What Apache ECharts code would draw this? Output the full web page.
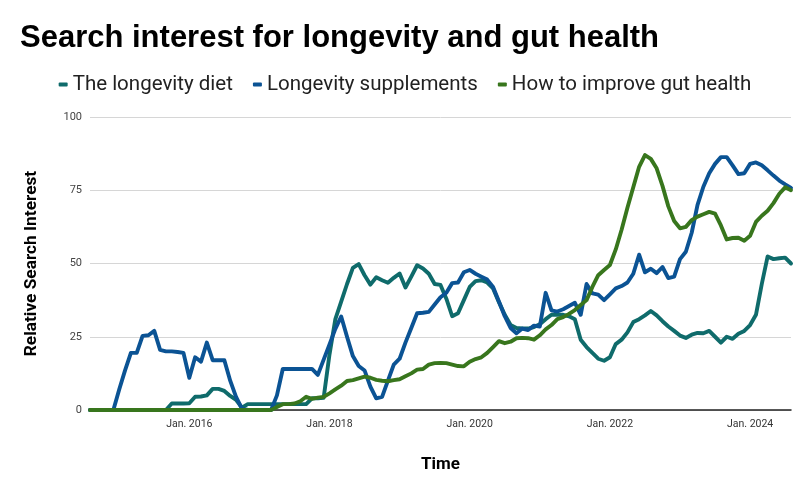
<!DOCTYPE html>
<html>
<head>
<meta charset="utf-8">
<script src="https://cdn.jsdelivr.net/npm/echarts@6/dist/echarts.min.js"></script>
<style>
html,body{margin:0;padding:0;background:#fff;}
#chart{width:810px;height:490px;}
</style>
</head>
<body>
<div id="chart"></div>
<script>
// Monthly categories Aug 2014 – Aug 2024
const startYear = 2014, startMonth = 8, monthCount = 121;
const categories = [];
for (let i = 0; i < monthCount; i++) {
  const t = (startMonth - 1) + i;
  const y = startYear + Math.floor(t / 12);
  const m = (t % 12) + 1;
  categories.push(y + '-' + (m < 10 ? '0' + m : '' + m));
}
const xTickLabels = {'2016-01':'Jan. 2016','2018-01':'Jan. 2018','2020-01':'Jan. 2020','2022-01':'Jan. 2022','2024-01':'Jan. 2024'};
const yTicks = [0, 25, 50, 75, 100];

const seriesNames = ['The longevity diet', 'Longevity supplements', 'How to improve gut health'];

const longevityDiet = [
  0,0,0,0,0,0,0,0,0,0,
  0,0,0,0,2.2,2.2,2.2,2.3,4.5,4.6,
  5,7.2,7.2,6.5,4.8,3.5,0.8,2,2,2,
  2,2,2,2,2,2,2,2,4,4,
  4.2,19,31,37,43,48.5,49.8,46,42.8,45.3,
  44.3,43.4,45.1,46.6,41.8,45.5,49.4,48.3,46.5,43,
  42.7,38,32,33,37.5,42,44,44.3,43.5,41.5,
  36.8,32.5,29,28,27.8,27.8,28.3,29.3,31,32.5,
  32.5,32.5,32,31,24,21.5,19.5,17.5,16.8,18,
  22.5,24,26.5,30,31,32.3,33.8,32.3,30.3,28.5,
  27,25.4,24.6,25.7,26.3,26.2,27,25,23,25,
  24.3,26,27,29,32.5,43,52.4,51.5,51.8,52,
  50
];
const longevitySupplements = [
  0,0,0,0,0,7,13.5,19.5,19.5,25.3,
  25.5,27,20.5,20,20,19.8,19.5,11,18,16.5,
  23,17,17,17,10,4.5,0.5,0,0,0,
  0,0,5,14,14,14,14,14,14,12,
  17.2,22.4,27.7,31.9,25,18.4,15,13.5,8,4,
  4.5,10,15.5,17.5,23,28,33,33.2,33.5,36,
  38.5,40,43.3,43.5,47,47.8,46.5,45.5,44.5,42,
  37,32,28,26.2,27.8,27.3,28.8,28.5,40,34,
  33.6,34.4,35.5,36.6,32.5,43,39.8,39.4,37.5,39.5,
  41.5,42.3,43.5,46.5,53,47,48.2,46.7,48.8,45,
  45.5,51.5,54,60.5,70,76.2,80.8,84,86.3,86.3,
  83.5,80.5,80.8,84,84.5,83.5,81.8,80,78.3,77,
  75.8
];
const gutHealth = [
  0,0,0,0,0,0,0,0,0,0,
  0,0,0,0,0,0,0,0,0,0,
  0,0,0,0,0,0,0,0,0,0,
  0,0,1,2,2,2.2,3,4.5,3.8,4.2,
  4.5,5.7,7,8.3,9.9,10.2,10.8,11.4,11,10.3,
  10,9.8,10.2,10.5,11.5,12.5,13.8,14,15.5,16,
  16.1,16,15.5,15,14.9,16.5,17.4,18,19.5,21.5,
  23.5,22.8,23.3,24.5,24.6,24.5,24,25.5,27.5,29,
  31,31.7,32.8,34.1,35.8,37.5,42,46,47.8,49.5,
  54.8,61.5,69,76,83,87,85.7,82.5,76.5,69.5,
  64.5,62,62.5,64.8,66,66.8,67.6,67,63,58.2,
  58.7,58.8,57.8,59.5,64.2,66.3,68,70.6,73.8,76,
  75
];

const colors = ['#0f6b6b', '#0b5394', '#38761d'];
const FONT = 'Roboto, "Liberation Sans", Arial, sans-serif';
const TITLE_FONT = '"Liberation Sans", Arial, Helvetica, sans-serif';

const chart = echarts.init(document.getElementById('chart'), null, {renderer: 'canvas'});
const mkSeries = (name, data, color) => ({
  name: name, type: 'line', data: data, showSymbol: false, symbol: 'none',
  lineStyle: {width: 3.9, color: color, join: 'round', cap: 'round'},
  itemStyle: {color: color}, smooth: false, animation: false
});
chart.setOption({
  backgroundColor: '#ffffff',
  animation: false,
  textStyle: {fontFamily: FONT},
  title: {
    text: 'Search interest for longevity and gut health',
    left: 15, top: 18,
    textStyle: {fontSize: 31, fontWeight: 'bold', color: '#000', fontFamily: TITLE_FONT}
  },
  legend: {
    top: 69, left: 'center',
    icon: 'roundRect', itemWidth: 9, itemHeight: 4, itemGap: 20,
    textStyle: {fontSize: 20.5, color: '#222', fontFamily: FONT},
    data: seriesNames
  },
  grid: {left: 90, right: 19, top: 117, bottom: 80, containLabel: false},
  xAxis: {
    type: 'category', data: categories, boundaryGap: false,
    name: 'Time', nameLocation: 'middle', nameGap: 46,
    nameTextStyle: {fontSize: 17, fontWeight: 'bold', color: '#000', fontFamily: FONT},
    axisLine: {show: true, lineStyle: {color: '#222', width: 1.5}},
    axisTick: {show: false},
    splitLine: {show: false},
    axisLabel: {
      interval: (idx, val) => xTickLabels.hasOwnProperty(val),
      formatter: (val) => xTickLabels[val] || '',
      fontSize: 10.5, color: '#333', margin: 9, fontFamily: FONT
    }
  },
  yAxis: {
    type: 'value', min: yTicks[0], max: yTicks[yTicks.length - 1], interval: 25,
    name: 'Relative Search Interest', nameLocation: 'middle', nameGap: 50, nameRotate: 90,
    nameTextStyle: {fontSize: 17.3, fontWeight: 'bold', color: '#000', fontFamily: FONT},
    axisLine: {show: false}, axisTick: {show: false},
    splitLine: {lineStyle: {color: '#d6d6d6', width: 1}},
    axisLabel: {fontSize: 11, color: '#444', margin: 8, fontFamily: FONT}
  },
  series: [
    mkSeries(seriesNames[0], longevityDiet, colors[0]),
    mkSeries(seriesNames[1], longevitySupplements, colors[1]),
    mkSeries(seriesNames[2], gutHealth, colors[2])
  ]
});
</script>
</body>
</html>
